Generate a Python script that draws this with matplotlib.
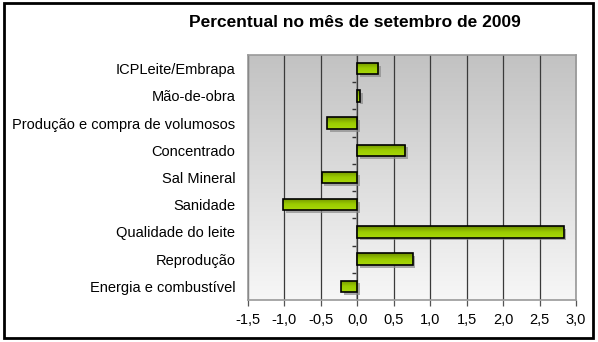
import matplotlib.pyplot as plt
import numpy as np
from matplotlib.colors import LinearSegmentedColormap
from matplotlib.patches import Rectangle
import matplotlib.patheffects as pe

plt.rcParams['font.family'] = ['Liberation Sans', 'DejaVu Sans']

# data
categories = ['ICPLeite/Embrapa', 'Mão-de-obra', 'Produção e compra de volumosos',
              'Concentrado', 'Sal Mineral', 'Sanidade', 'Qualidade do leite',
              'Reprodução', 'Energia e combustível']
values = [0.29, 0.04, -0.41, 0.66, -0.49, -1.02, 2.83, 0.76, -0.22]
xticks = [-1.5, -1.0, -0.5, 0.0, 0.5, 1.0, 1.5, 2.0, 2.5, 3.0]
xticklabels = ['-1,5', '-1,0', '-0,5', '0,0', '0,5', '1,0', '1,5', '2,0', '2,5', '3,0']

n = len(categories)
ypos = np.arange(n)[::-1]
bar_h = 0.42

fig = plt.figure(figsize=(5.98, 3.42), dpi=100)
ax = fig.add_axes([0.4147, 0.1228, 0.5485, 0.7164])

# plot area gradient background
bg_cmap = LinearSegmentedColormap.from_list('bg', ['#c2c2c2', '#f7f7f7'])
ax.imshow(np.linspace(0, 1, 256).reshape(-1, 1), cmap=bg_cmap, aspect='auto',
          extent=(0, 1, 0, 1), transform=ax.transAxes, zorder=0)

# grid lines
for t in xticks:
    ax.axvline(t, color='#3a3a3a', lw=0.9, zorder=1)

# bars with green gradient + small drop shadow
bars = ax.barh(ypos, values, height=bar_h, color='none', edgecolor='black', lw=1.2, zorder=4)
bar_cmap = LinearSegmentedColormap.from_list('bar', ['#6f9000', '#9acb00', '#a8d80a'])
grad = np.linspace(0, 1, 64).reshape(-1, 1)
for b in bars:
    x0, y0 = b.get_x(), b.get_y()
    w, h = b.get_width(), b.get_height()
    ax.add_patch(Rectangle((x0, y0), w, h, facecolor='none', edgecolor='none', zorder=2,
                           path_effects=[pe.SimplePatchShadow(offset=(2, -2), shadow_rgbFace='#8a8a8a', alpha=0.7)]))
    im = ax.imshow(grad, cmap=bar_cmap, aspect='auto', origin='upper',
                   extent=(x0, x0 + w, y0, y0 + h), zorder=3)
    im.set_clip_path(b)

ax.set_xlim(-1.5, 3.0)
ax.set_ylim(-0.5, n - 0.5)

ax.set_xticks(xticks)
ax.set_xticklabels(xticklabels, fontsize=10.5)
ax.tick_params(axis='x', length=4, width=0.9, color='#555555', pad=5)
ax.set_yticks(ypos)
ax.set_yticklabels(categories, fontsize=10.5)
ax.tick_params(axis='y', length=0, pad=9)

for s in ax.spines.values():
    s.set_color('#9a9a9a')
    s.set_linewidth(1.2)

# zero axis with tick marks between categories
sec = ax.secondary_yaxis(1.5 / 4.5)
sec.set_yticks(np.arange(n - 1) + 0.5)
sec.set_yticklabels([])
sec.tick_params(axis='y', direction='out', length=3.5, width=1, color='#333333', left=True, right=False)
sec.spines['left'].set_color('#9a9a9a')
sec.spines['left'].set_linewidth(1.2)

fig.text(0.594, 0.933, 'Percentual no mês de setembro de 2009', ha='center', va='center',
         fontsize=12.5, fontweight='bold')

# frame around the whole chart
fig.patches.append(Rectangle((0.006, 0.012), 0.986, 0.978, transform=fig.transFigure,
                             fill=False, edgecolor='black', lw=2))

fig.savefig('out.png', dpi=100)
